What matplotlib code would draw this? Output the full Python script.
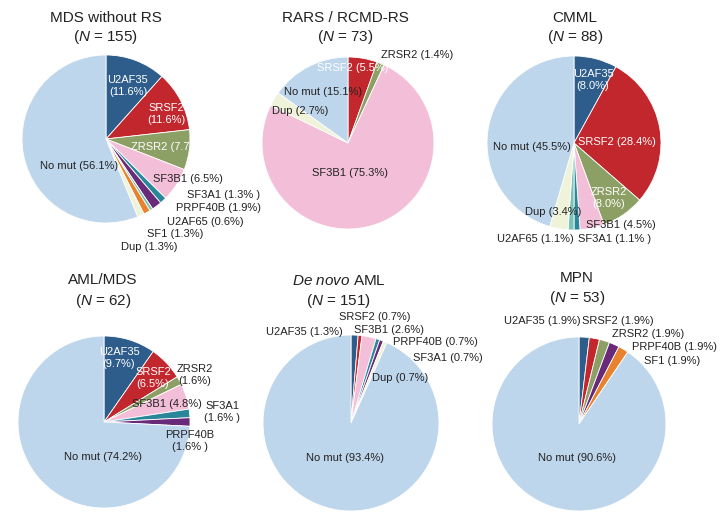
import matplotlib
matplotlib.use("Agg")
import matplotlib.pyplot as plt

plt.rcParams['font.family'] = ['Liberation Sans', 'DejaVu Sans']
plt.rcParams['mathtext.fontset'] = 'custom'
plt.rcParams['mathtext.rm'] = 'Liberation Sans'
plt.rcParams['mathtext.it'] = 'Liberation Sans:italic'

W, H = 724, 522

colors = {
    'U2AF35': '#2e5d8c', 'SRSF2': '#c1272d', 'ZRSR2': '#8c9f64',
    'SF3B1': '#f3bfd8', 'SF3A1': '#2a8799', 'PRPF40B': '#6a2a7a',
    'U2AF65': '#79c3b5', 'SF1': '#e8822e', 'Dup': '#eef3d9', 'No mut': '#bed6ec',
}

# --- data ---
mds_cats = ['U2AF35', 'SRSF2', 'ZRSR2', 'SF3B1', 'SF3A1', 'PRPF40B', 'U2AF65', 'SF1', 'Dup', 'No mut']
mds_vals = [11.6, 11.6, 7.7, 6.5, 1.3, 1.9, 0.6, 1.3, 1.3, 56.1]

rars_cats = ['SRSF2', 'ZRSR2', 'SF3B1', 'Dup', 'No mut']
rars_vals = [5.5, 1.4, 75.3, 2.7, 15.1]

cmml_cats = ['U2AF35', 'SRSF2', 'ZRSR2', 'SF3B1', 'SF3A1', 'U2AF65', 'Dup', 'No mut']
cmml_vals = [8.0, 28.4, 8.0, 4.5, 1.1, 1.1, 3.4, 45.5]

amlmds_cats = ['U2AF35', 'SRSF2', 'ZRSR2', 'SF3B1', 'SF3A1', 'PRPF40B', 'No mut']
amlmds_vals = [9.7, 6.5, 1.6, 4.8, 1.6, 1.6, 74.2]

denovo_cats = ['U2AF35', 'SRSF2', 'SF3B1', 'SF3A1', 'PRPF40B', 'Dup', 'No mut']
denovo_vals = [1.3, 0.7, 2.6, 0.7, 0.7, 0.7, 93.4]

mpn_cats = ['U2AF35', 'SRSF2', 'ZRSR2', 'PRPF40B', 'SF1', 'No mut']
mpn_vals = [1.9, 1.9, 1.9, 1.9, 1.9, 90.6]

titles = ['MDS without RS', 'RARS / RCMD-RS', 'CMML', 'AML/MDS', r'$\mathit{De\ novo}$ AML', 'MPN']
ns = [155, 73, 88, 62, 151, 53]

# --- layout (pixels) ---
pies = [
    (mds_cats, mds_vals, (106, 139, 84)),
    (rars_cats, rars_vals, (348, 143, 86)),
    (cmml_cats, cmml_vals, (574, 143, 87)),
    (amlmds_cats, amlmds_vals, (104, 422, 86)),
    (denovo_cats, denovo_vals, (351, 423, 88)),
    (mpn_cats, mpn_vals, (579, 424, 87)),
]
title_pos = [(106, 18, 37), (345, 18, 37), (575, 18, 37),
             (103, 280, 301), (339, 281, 301), (577, 278, 298)]

# label texts with positions (pixel centers) and color
labels = [
    # MDS without RS
    ('U2AF35\n(11.6%)', 128, 86, 'w'), ('SRSF2\n(11.6%)', 166, 114, 'w'),
    ('ZRSR2 (7.7%)', 167, 147, 'w'), ('No mut (56.1%)', 79, 166, 'k'),
    ('SF3B1 (6.5%)', 188, 179, 'k'), ('SF3A1 (1.3% )', 224, 195, 'k'),
    ('PRPF40B (1.9%)', 219, 208, 'k'), ('U2AF65 (0.6%)', 205, 222, 'k'),
    ('SF1 (1.3%)', 175, 234, 'k'), ('Dup (1.3%)', 149, 247, 'k'),
    # RARS
    ('SRSF2 (5.5%)', 353, 68, 'w'), ('ZRSR2 (1.4%)', 417, 55, 'k'),
    ('No mut (15.1%)', 323, 92, 'k'), ('Dup (2.7%)', 300, 111, 'k'),
    ('SF3B1 (75.3%)', 350, 173, 'k'),
    # CMML
    ('U2AF35\n(8.0%)', 593, 80, 'w'), ('SRSF2 (28.4%)', 617, 142, 'w'),
    ('ZRSR2\n(8.0%)', 609, 198, 'w'), ('No mut (45.5%)', 532, 147, 'k'),
    ('Dup (3.4%)', 553, 212, 'k'), ('SF3B1 (4.5%)', 621, 225, 'k'),
    ('U2AF65 (1.1%)', 535, 239, 'k'), ('SF3A1 (1.1% )', 615, 239, 'k'),
    # AML/MDS
    ('U2AF35\n(9.7%)', 119, 358, 'w'), ('SRSF2\n(6.5%)', 153, 378, 'w'),
    ('ZRSR2\n(1.6%)', 195, 375, 'k'), ('SF3B1 (4.8%)', 167, 404, 'k'),
    ('SF3A1\n(1.6% )', 222, 412, 'k'), ('PRPF40B\n(1.6% )', 190, 441, 'k'),
    ('No mut (74.2%)', 103, 457, 'k'),
    # De novo AML
    ('U2AF35 (1.3%)', 304, 332, 'k'), ('SRSF2 (0.7%)', 375, 317, 'k'),
    ('SF3B1 (2.6%)', 389, 330, 'k'), ('PRPF40B (0.7%)', 435, 342, 'k'),
    ('SF3A1 (0.7%)', 448, 358, 'k'), ('Dup (0.7%)', 400, 378, 'k'),
    ('No mut (93.4%)', 345, 458, 'k'),
    # MPN
    ('U2AF35 (1.9%)', 542, 321, 'k'), ('SRSF2 (1.9%)', 618, 321, 'k'),
    ('ZRSR2 (1.9%)', 648, 334, 'k'), ('PRPF40B (1.9%)', 675, 347, 'k'),
    ('SF1 (1.9%)', 672, 361, 'k'), ('No mut (90.6%)', 577, 458, 'k'),
]

fig = plt.figure(figsize=(W / 100, H / 100), dpi=100)

for cats, vals, (cx, cy, r) in pies:
    ax = fig.add_axes([(cx - r) / W, 1 - (cy + r) / H, 2 * r / W, 2 * r / H])
    ax.pie(vals, colors=[colors[c] for c in cats], startangle=90, counterclock=False,
           radius=1, wedgeprops=dict(edgecolor='white', linewidth=0.6))
    ax.set_xlim(-1, 1)
    ax.set_ylim(-1, 1)
    ax.set_aspect('equal')
    ax.axis('off')

for t, n, (x, y1, y2) in zip(titles, ns, title_pos):
    fig.text(x / W, 1 - y1 / H, t, ha='center', va='center', fontsize=11, color='#222222')
    fig.text(x / W, 1 - y2 / H, r'($\mathit{N}$ = %d)' % n, ha='center', va='center',
             fontsize=11, color='#222222')

for txt, x, y, c in labels:
    fig.text(x / W, 1 - y / H, txt, ha='center', va='center', fontsize=8.0,
             color='white' if c == 'w' else '#222222', linespacing=1.3)

fig.savefig('out.png', dpi=100)
